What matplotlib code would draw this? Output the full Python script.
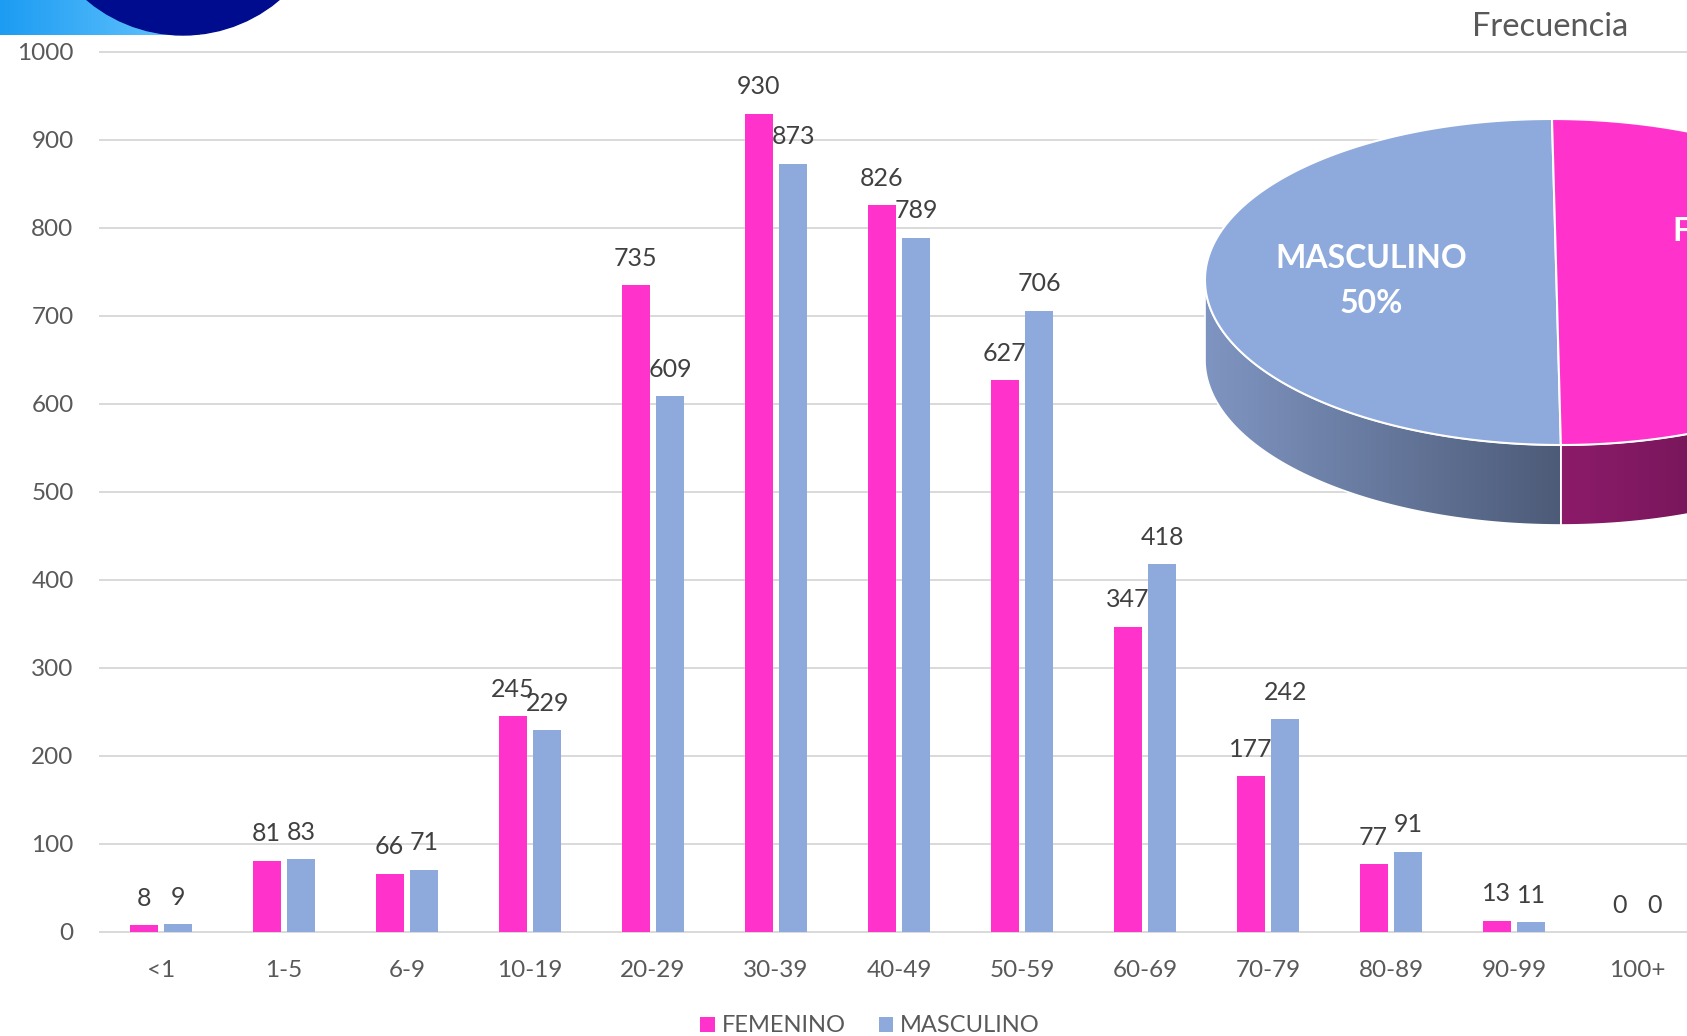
import numpy as np
import matplotlib
matplotlib.use("Agg")
import matplotlib.pyplot as plt
from matplotlib.patches import Polygon, Circle

plt.rcParams['font.family'] = ['Lato', 'DejaVu Sans']

# data
grupos = ['<1', '1-5', '6-9', '10-19', '20-29', '30-39', '40-49', '50-59',
          '60-69', '70-79', '80-89', '90-99', '100+']
femenino = [8, 81, 66, 245, 735, 930, 826, 627, 347, 177, 77, 13, 0]
masculino = [9, 83, 71, 229, 609, 873, 789, 706, 418, 242, 91, 11, 0]
series = ['FEMENINO', 'MASCULINO']
y_ticks = [0, 100, 200, 300, 400, 500, 600, 700, 800, 900, 1000]

ROSA = '#FF33CC'
AZUL = '#8EA9DB'
GRIS = '#595959'

W, H = 1687, 1036
fig = plt.figure(figsize=(W / 100, H / 100), dpi=100)
fig.patch.set_facecolor('white')

# main bar chart
ax = fig.add_axes([100 / W, (H - 932) / H, (W - 100) / W, 880 / H])
x = np.arange(len(grupos))
bw = 0.228
off = 0.142
b1 = ax.bar(x - off, femenino, bw, color=ROSA, label=series[0], zorder=3)
b2 = ax.bar(x + off, masculino, bw, color=AZUL, label=series[1], zorder=3)

for bars, vals in ((b1, femenino), (b2, masculino)):
    for r, v in zip(bars, vals):
        ax.annotate(str(v), (r.get_x() + r.get_width() / 2, v),
                    xytext=(0, 14), textcoords='offset points',
                    ha='center', va='baseline', fontsize=18, color='#404040')

ax.set_xlim(-0.496, (W - 161) / 123)
ax.set_ylim(0, 1000)
ax.set_yticks(y_ticks)
ax.set_xticks(x)
ax.set_xticklabels(grupos)
ax.tick_params(axis='both', length=0, labelsize=17.5, labelcolor=GRIS)
ax.tick_params(axis='y', pad=19)
ax.tick_params(axis='x', pad=20)
ax.yaxis.grid(True, color='#D9D9D9', lw=1.4, zorder=0)
for gl in ax.yaxis.get_gridlines():
    gl.set_clip_on(False)
for s in ax.spines.values():
    s.set_visible(False)
ax.set_facecolor('none')

fig.legend(handles=[b1, b2], labels=series, loc='center', ncol=2,
           bbox_to_anchor=(870 / W, (H - 1026) / H), frameon=False,
           fontsize=17, labelcolor=GRIS, handlelength=0.6, handleheight=0.6,
           handletextpad=0.3, columnspacing=1.4, borderaxespad=0, borderpad=0)

# overlay in pixel coordinates: decoration, title, 3D pie
ov = fig.add_axes([0, 0, 1, 1])
ov.set_xlim(0, W)
ov.set_ylim(H, 0)
ov.axis('off')

grad = np.linspace(0, 1, 200).reshape(1, -1)
c0 = np.array([0x1c, 0x9c, 0xf2]) / 255
c1 = np.array([0x6c, 0xc8, 0xff]) / 255
img = c0[None, None, :] * (1 - grad[..., None]) + c1[None, None, :] * grad[..., None]
ov.imshow(img, extent=(0, 200, 35, 0), aspect='auto', zorder=1)
ov.add_patch(Circle((183, -114), 149, color='#000C8E', zorder=2))

ov.text(1550, 27, 'Frecuencia', ha='center', va='center', fontsize=23.5, color=GRIS)

# 3D pie
total_m = sum(masculino)
total_f = sum(femenino)
total = total_m + total_f
cx, cy, rx, ry, sh, depth = 1556.5, 282, 351.5, 163, 4.5, 80


def edge(t):
    t = np.radians(t)
    return cx + rx * np.cos(t) - sh * np.sin(t), cy - ry * np.sin(t)


a0 = 90.0
a1 = a0 + 360.0 * total_m / total
wedges = [(a0, a1, AZUL, ('#7f95c1', '#4d5b78')),
          (a1, a0 + 360.0, ROSA, ('#8c1b6a', '#5a0f44'))]

for s0, s1, col, (sc0, sc1) in wedges:
    # side (front part only, angles between 180 and 360)
    lo, hi = max(s0, 180), min(s1, 360)
    if hi > lo:
        t = np.linspace(lo, hi, 120)
        ex, ey = edge(t)
        pts = np.column_stack([np.r_[ex, ex[::-1]], np.r_[ey, ey[::-1] + depth]])
        poly = Polygon(pts, closed=True, facecolor='none', edgecolor='white', lw=1.2, zorder=5)
        ov.add_patch(poly)
        g = np.linspace(0, 1, 256).reshape(1, -1)
        a = np.array(matplotlib.colors.to_rgb(sc0))
        b = np.array(matplotlib.colors.to_rgb(sc1))
        gi = a[None, None, :] * (1 - g[..., None]) + b[None, None, :] * g[..., None]
        im = ov.imshow(gi, extent=(ex.min(), ex.max(), ey.max() + depth, ey.min()),
                       aspect='auto', zorder=4)
        im.set_clip_path(poly)
    # top face
    t = np.linspace(s0, s1, 200)
    ex, ey = edge(t)
    pts = np.column_stack([np.r_[cx, ex], np.r_[cy, ey]])
    ov.add_patch(Polygon(pts, closed=True, facecolor=col, edgecolor='white',
                         lw=1.5, zorder=6))

pct_m = round(100 * total_m / total)
pct_f = round(100 * total_f / total)
ov.text(1371, 281, 'MASCULINO\n%d%%' % pct_m, ha='center', va='center',
        fontsize=23, fontweight='bold', color='white', linespacing=1.63, zorder=7)
ov.text(1672, 254, 'FEMENINO\n%d%%' % pct_f, ha='left', va='center',
        multialignment='center', fontsize=23, fontweight='bold', color='white',
        linespacing=1.63, zorder=7)

fig.savefig('out.png', dpi=100)
